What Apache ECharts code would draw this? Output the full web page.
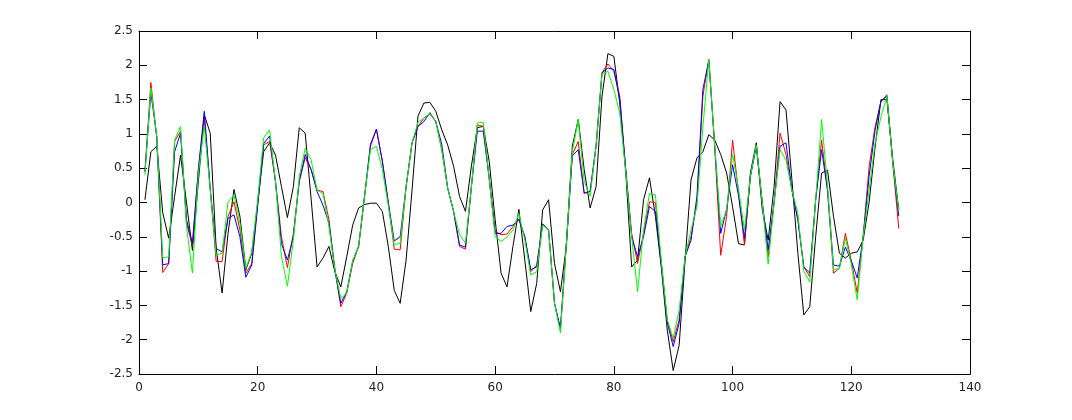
<!DOCTYPE html>
<html>
<head>
<meta charset="utf-8">
<script src="https://cdn.jsdelivr.net/npm/echarts@6/dist/echarts.min.js"></script>
<style>html,body{margin:0;padding:0;background:#fff}#c{width:1072px;height:420px}</style>
</head>
<body>
<div id="c"></div>
<script>
var xTicks = [0, 20, 40, 60, 80, 100, 120, 140];
var yTicks = [-2.5, -2, -1.5, -1, -0.5, 0, 0.5, 1, 1.5, 2, 2.5];

var blackVals = [0.04,0.74,0.82,-0.15,-0.52,0.09,0.69,0.0,-0.70,0.3,
1.28,1.01,-0.67,-1.32,-0.45,0.19,-0.2,-0.98,-0.74,0.0,
0.74,0.87,0.69,0.23,-0.22,0.23,1.09,1.01,0.05,-0.94,
-0.81,-0.64,-1.01,-1.23,-0.79,-0.33,-0.08,-0.03,-0.01,-0.01,
-0.13,-0.64,-1.28,-1.47,-0.84,0.18,1.26,1.45,1.46,1.33,
1.06,0.84,0.53,0.09,-0.13,0.53,1.09,1.11,0.6,-0.25,
-1.03,-1.23,-0.64,-0.1,-0.84,-1.59,-1.18,-0.11,0.04,-0.89,
-1.30,-0.64,0.82,1.21,0.48,-0.08,0.23,1.55,2.17,2.13,
1.45,0.45,-0.94,-0.84,0.04,0.36,-0.2,-0.95,-1.86,-2.45,
-2.08,-0.84,0.33,0.65,0.74,0.99,0.91,0.70,0.43,-0.06,
-0.6,-0.62,0.43,0.87,-0.1,-0.55,0.23,1.47,1.35,0.33,
-0.74,-1.64,-1.52,-0.5,0.43,0.47,-0.2,-0.74,-0.81,-0.74,
-0.72,-0.55,0.0,0.8,1.5,1.5,0.62,-0.11];

var redVals = [0.45,1.75,0.93,-1.02,-0.89,0.89,1.04,-0.3,-0.63,0.48,
1.23,0.2,-0.86,-0.86,-0.2,0.01,-0.4,-1.03,-0.89,0.0,
0.84,0.89,0.3,-0.5,-0.95,-0.45,0.31,0.65,0.48,0.18,
0.16,-0.25,-0.98,-1.52,-1.32,-0.89,-0.64,0.09,0.82,1.07,
0.6,0.0,-0.68,-0.69,0.23,0.87,1.11,1.23,1.29,1.18,
0.77,0.21,-0.13,-0.64,-0.68,0.23,1.13,1.11,0.35,-0.42,
-0.47,-0.46,-0.35,-0.25,-0.5,-1.01,-0.91,-0.33,-0.4,-1.47,
-1.85,-0.6,0.70,0.89,0.13,0.16,0.82,1.89,2.02,1.91,
1.55,0.48,-0.45,-0.89,-0.45,0.01,0.0,-0.89,-1.71,-2.03,
-1.71,-0.79,-0.5,0.0,1.55,2.09,0.8,-0.77,-0.2,0.91,
0.15,-0.62,0.38,0.84,0.0,-0.79,0.0,1.01,0.7,0.18,
-0.25,-0.94,-1.08,0.04,0.91,0.18,-1.03,-0.96,-0.45,-0.85,
-1.32,-0.5,0.52,1.1,1.47,1.57,0.57,-0.38];

var blueVals = [0.45,1.6,0.96,-0.91,-0.89,0.74,1.01,-0.25,-0.6,0.48,
1.33,0.2,-0.67,-0.72,-0.23,-0.18,-0.5,-1.09,-0.91,-0.05,
0.86,0.97,0.3,-0.6,-0.84,-0.5,0.31,0.70,0.48,0.16,
-0.04,-0.3,-0.98,-1.47,-1.3,-0.85,-0.64,0.09,0.85,1.07,
0.6,0.0,-0.56,-0.5,0.23,0.87,1.11,1.18,1.31,1.18,
0.85,0.21,-0.13,-0.62,-0.65,0.23,1.04,1.04,0.35,-0.45,
-0.45,-0.35,-0.33,-0.24,-0.5,-0.98,-0.94,-0.31,-0.4,-1.47,
-1.83,-0.6,0.68,0.77,0.14,0.16,0.82,1.89,1.96,1.94,
1.5,0.48,-0.5,-0.79,-0.5,-0.06,-0.13,-0.89,-1.75,-2.1,
-1.76,-0.79,-0.55,0.09,1.65,2.07,0.82,-0.45,-0.1,0.55,
0.1,-0.52,0.38,0.82,0.0,-0.69,0.0,0.82,0.87,0.18,
-0.25,-0.94,-1.03,0.04,0.77,0.18,-0.91,-0.93,-0.65,-0.85,
-1.1,-0.5,0.38,1.05,1.48,1.55,0.57,-0.2];

var greenVals = [0.4,1.67,0.96,-0.81,-0.79,0.91,1.11,-0.35,-1.03,0.42,
1.11,0.18,-0.77,-0.74,0.01,0.11,-0.3,-0.96,-0.72,0.05,
0.94,1.06,0.3,-0.79,-1.22,-0.55,0.38,0.79,0.62,0.18,
0.13,-0.35,-0.98,-1.40,-1.32,-0.85,-0.64,0.09,0.77,0.82,
0.48,-0.05,-0.62,-0.59,0.23,0.87,1.17,1.23,1.30,1.18,
0.77,0.21,-0.13,-0.47,-0.59,0.23,1.16,1.17,0.35,-0.5,
-0.57,-0.5,-0.4,-0.16,-0.55,-1.06,-1.01,-0.33,-0.4,-1.47,
-1.90,-0.6,0.74,1.21,0.31,0.09,0.82,1.88,1.91,1.65,
1.30,0.45,-0.5,-1.30,-0.4,0.13,0.11,-0.85,-1.71,-1.98,
-1.57,-0.79,-0.4,-0.06,1.1,2.08,0.82,-0.35,-0.1,0.7,
0.2,-0.4,0.38,0.84,0.0,-0.9,0.0,0.77,0.62,0.18,
-0.16,-1.0,-1.16,0.04,1.21,0.25,-0.98,-0.96,-0.52,-0.9,
-1.42,-0.5,0.18,0.86,1.25,1.55,0.57,-0.12];

function pairs(vals){ return vals.map(function(v,i){ return [i+1, v]; }); }

var chart = echarts.init(document.getElementById('c'), null, {renderer:'canvas'});
var fontFam = 'DejaVu Sans';
var axisLine = {show:true, onZero:false, lineStyle:{color:'#000', width:1}};
var tickIn = {show:true, inside:true, length:8, lineStyle:{color:'#000', width:1}};
var labelStyle = {color:'#222', fontFamily:fontFam, fontSize:12};

function mk(name, vals, color){
  return {name:name, type:'line', data:pairs(vals), xAxisIndex:0, yAxisIndex:0,
    showSymbol:false, symbol:'none', lineStyle:{color:color, width:1}, itemStyle:{color:color},
    smooth:false, animation:false, z:2};
}

chart.setOption({
  animation:false,
  backgroundColor:'#fff',
  grid:{left:139, right:102, top:31, bottom:46, containLabel:false},
  xAxis:[
    {type:'value', min:xTicks[0], max:xTicks[xTicks.length-1], interval:20, position:'bottom',
     axisLine:axisLine, axisTick:tickIn, splitLine:{show:false},
     axisLabel:Object.assign({margin:8}, labelStyle)},
    {type:'value', min:xTicks[0], max:xTicks[xTicks.length-1], interval:20, position:'top',
     axisLine:axisLine, axisTick:tickIn, splitLine:{show:false}, axisLabel:{show:false}}
  ],
  yAxis:[
    {type:'value', min:yTicks[0], max:yTicks[yTicks.length-1], interval:0.5, position:'left',
     axisLine:axisLine, axisTick:tickIn, splitLine:{show:false},
     axisLabel:Object.assign({margin:6}, labelStyle)},
    {type:'value', min:yTicks[0], max:yTicks[yTicks.length-1], interval:0.5, position:'right',
     axisLine:axisLine, axisTick:tickIn, splitLine:{show:false}, axisLabel:{show:false}}
  ],
  series:[
    mk('black', blackVals, '#000000'),
    mk('red', redVals, '#ff0000'),
    mk('blue', blueVals, '#0000ff'),
    mk('green', greenVals, '#00ff00')
  ]
});
</script>
</body>
</html>
